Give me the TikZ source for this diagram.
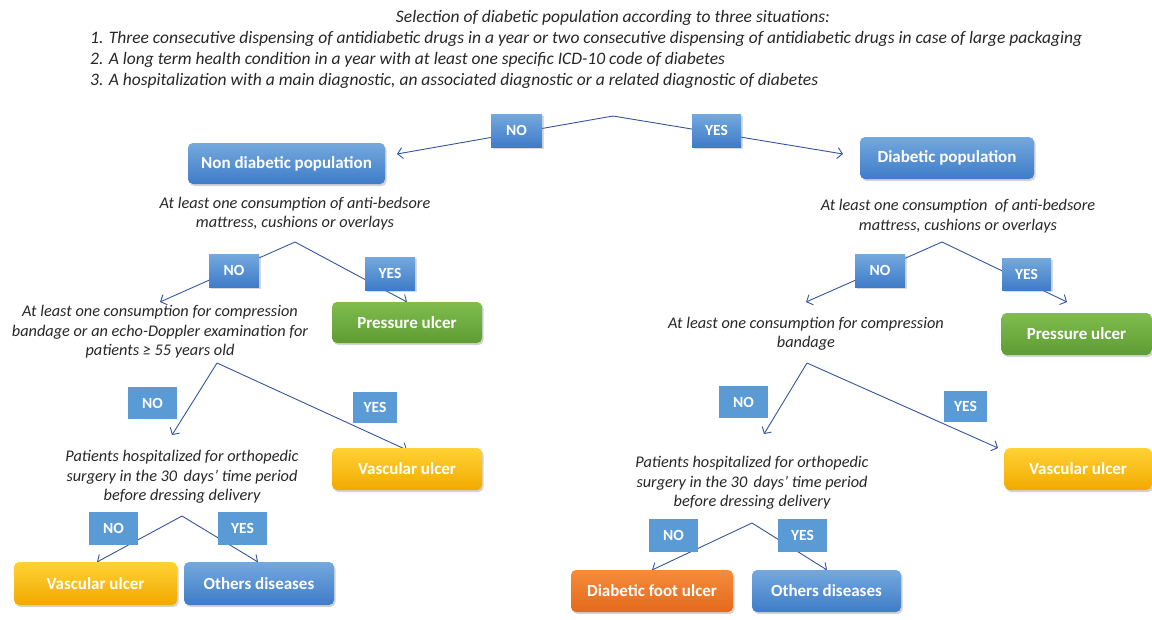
\documentclass[tikz,border=0pt]{standalone}
\usepackage{fontspec}
\setmainfont{Carlito}
\usetikzlibrary{arrows.meta,shadows}
\definecolor{conncol}{HTML}{3355A0}
\definecolor{bluetop}{HTML}{74A9DE}
\definecolor{bluebot}{HTML}{3F7CC8}
\definecolor{blueflat}{HTML}{5B9BD5}
\definecolor{greentop}{HTML}{80BC4E}
\definecolor{greenbot}{HTML}{5E9C34}
\definecolor{yeltop}{HTML}{FFD235}
\definecolor{yelbot}{HTML}{F2A900}
\definecolor{orgtop}{HTML}{F58C3C}
\definecolor{orgbot}{HTML}{E4691C}
\tikzset{
  conn/.style={draw=conncol, line width=0.9pt, -{Straight Barb[length=5pt,width=11pt]}},
  outbox/.style={rectangle, rounded corners=5pt, text=white, font=\fontsize{17}{20}\selectfont\bfseries, inner sep=0pt,
     drop shadow={opacity=0.35, shadow xshift=1.5pt, shadow yshift=-2pt}},
  bluebox/.style={outbox, top color=bluetop, bottom color=bluebot},
  greenbox/.style={outbox, top color=greentop, bottom color=greenbot},
  yelbox/.style={outbox, top color=yeltop, bottom color=yelbot},
  orgbox/.style={outbox, top color=orgtop, bottom color=orgbot},
  lab/.style={rectangle, text=white, font=\fontsize{15.5}{18}\selectfont\bfseries, inner sep=0pt},
  labg/.style={lab, top color=bluetop, bottom color=bluebot, drop shadow={opacity=0.3, shadow xshift=1.5pt, shadow yshift=-2pt}},
  labf/.style={lab, fill=blueflat},
  qtext/.style={font=\fontsize{16.3}{19.5}\selectfont\itshape, align=center, inner sep=0pt, text=black!85},
  ttext/.style={font=\fontsize{17.5}{20}\selectfont\itshape, inner sep=0pt, text=black!85},
}
\begin{document}
\begin{tikzpicture}[x=1pt,y=-1pt]
\useasboundingbox (0,0) rectangle (1152,619);
% title
\node[ttext] (title) at (613,18) {Selection of diabetic population according to three situations:};
\node[ttext, anchor=west] (it1) at (90,39) {1. Three consecutive dispensing of antidiabetic drugs in a year or two consecutive dispensing of antidiabetic drugs in case of large packaging};
\node[ttext, anchor=west] (it2) at (90,60) {2. A long term health condition in a year with at least one specific ICD-10 code of diabetes};
\node[ttext, anchor=west] (it3) at (90,81) {3. A hospitalization with a main diagnostic, an associated diagnostic or a related diagnostic of diabetes};

% question texts
\node[qtext] (q1) at (295,213.5) {At least one consumption of anti-bedsore\\mattress, cushions or overlays};
\node[qtext] (q2) at (958,216) {At least one consumption \ of anti-bedsore\\mattress, cushions or overlays};
\node[qtext] (q3) at (160,332) {At least one consumption for compression\\bandage or an echo-Doppler examination for\\patients ≥ 55 years old};
\node[qtext] (q4) at (806,333.5) {At least one consumption for compression\\bandage};
\node[qtext] (q5) at (182,477) {Patients hospitalized for orthopedic\\surgery in the 30 \,days’ time period\\before dressing delivery};
\node[qtext] (q6) at (752,483) {Patients hospitalized for orthopedic\\surgery in the 30 \,days’ time period\\before dressing delivery};

% apex and end coordinates
\coordinate (a0) at (613,116);
\coordinate (a1) at (295,242);
\coordinate (a2) at (942,242);
\coordinate (a3) at (217,363);
\coordinate (a4) at (807,363);
\coordinate (a5) at (182,516);
\coordinate (a6) at (752,523);
\coordinate (e0n) at (397,154);
\coordinate (e0y) at (843,154);
\coordinate (e1n) at (160,302);
\coordinate (e1y) at (407,302);
\coordinate (e2n) at (806,302);
\coordinate (e2y) at (1067,302);
\coordinate (e3n) at (172,435);
\coordinate (e3y) at (407,450);
\coordinate (e4n) at (764,434);
\coordinate (e4y) at (998,448);
\coordinate (e5n) at (97,562);
\coordinate (e5y) at (258,562);
\coordinate (e6n) at (652,570);
\coordinate (e6y) at (827,570);

% connectors
\draw[conn] (a0) -- (e0n);
\draw[conn] (a0) -- (e0y);
\draw[conn] (a1) -- (e1n);
\draw[conn] (a1) -- (e1y);
\draw[conn] (a2) -- (e2n);
\draw[conn] (a2) -- (e2y);
\draw[conn] (a3) -- (e3n);
\draw[conn] (a3) -- (e3y);
\draw[conn] (a4) -- (e4n);
\draw[conn] (a4) -- (e4y);
\draw[conn] (a5) -- (e5n);
\draw[conn] (a5) -- (e5y);
\draw[conn] (a6) -- (e6n);
\draw[conn] (a6) -- (e6y);

% outcome boxes
\node[bluebox, minimum width=197pt, minimum height=41pt] (nondiab) at (286.5,163.5) {Non diabetic population};
\node[bluebox, minimum width=174pt, minimum height=42pt] (diab) at (947,158) {Diabetic population};
\node[greenbox, minimum width=150pt, minimum height=41pt] (pu1) at (407,322.5) {Pressure ulcer};
\node[greenbox, minimum width=150pt, minimum height=42pt] (pu2) at (1076.5,334) {Pressure ulcer};
\node[yelbox, minimum width=150pt, minimum height=42pt] (vu1) at (407,469) {Vascular ulcer};
\node[yelbox, minimum width=147pt, minimum height=42pt] (vu2) at (1078,469) {Vascular ulcer};
\node[yelbox, minimum width=163pt, minimum height=43pt] (vu3) at (95.5,583.5) {Vascular ulcer};
\node[bluebox, minimum width=150pt, minimum height=43pt] (od1) at (259,583.5) {Others diseases};
\node[orgbox, minimum width=162pt, minimum height=42pt] (dfu) at (652,591) {Diabetic foot ulcer};
\node[bluebox, minimum width=149pt, minimum height=42pt] (od2) at (826.5,591) {Others diseases};

% labels
\node[labg, minimum width=51pt, minimum height=33pt] (n0) at (516.5,130.5) {NO};
\node[labg, minimum width=49pt, minimum height=33pt] (y0) at (716.5,130.5) {YES};
\node[labg, minimum width=50pt, minimum height=33pt] (n1) at (234,270.5) {NO};
\node[labg, minimum width=50pt, minimum height=33pt] (y1) at (390,273.5) {YES};
\node[labg, minimum width=50pt, minimum height=33pt] (n2) at (880,270.5) {NO};
\node[labg, minimum width=49pt, minimum height=32pt] (y2) at (1026.5,274) {YES};
\node[labf, minimum width=49pt, minimum height=32pt] (n3) at (152.5,403) {NO};
\node[labf, minimum width=44pt, minimum height=31pt] (y3) at (375,407.5) {YES};
\node[labf, minimum width=49pt, minimum height=32pt] (n4) at (743.5,402) {NO};
\node[labf, minimum width=43pt, minimum height=31pt] (y4) at (965.5,406.5) {YES};
\node[labf, minimum width=49pt, minimum height=33pt] (n5) at (113.5,528.5) {NO};
\node[labf, minimum width=49pt, minimum height=33pt] (y5) at (242.5,528.5) {YES};
\node[labf, minimum width=49pt, minimum height=33pt] (n6) at (673.5,535.5) {NO};
\node[labf, minimum width=49pt, minimum height=33pt] (y6) at (802.5,535.5) {YES};
\end{tikzpicture}
\end{document}
